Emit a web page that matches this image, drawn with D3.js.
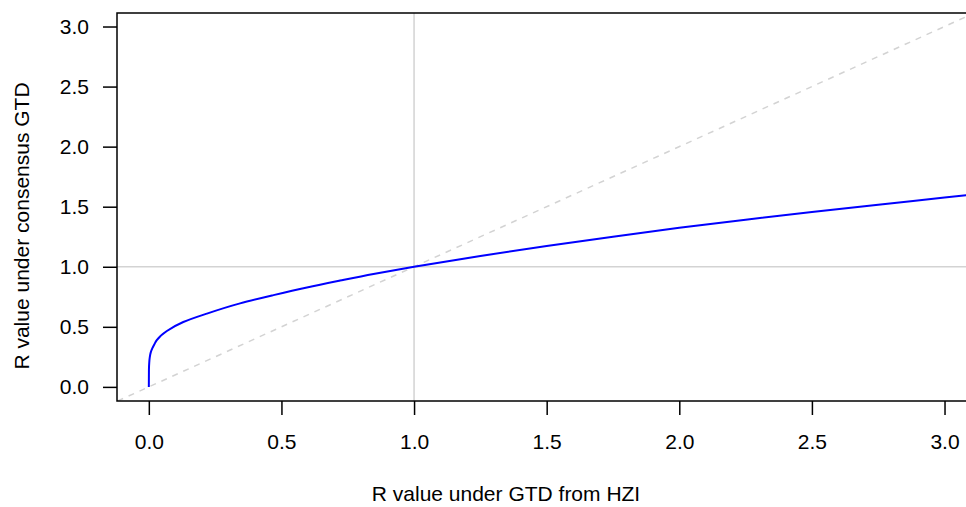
<!DOCTYPE html>
<html>
<head>
<meta charset="utf-8">
<script src="https://cdn.jsdelivr.net/npm/d3@7"></script>
<style>
  html, body { margin: 0; padding: 0; background: #fff; }
  svg { display: block; font-family: "Liberation Sans", Arial, sans-serif; }
</style>
</head>
<body>
<svg id="chart" width="966" height="507"></svg>
<script>
// R under the HZI generation-time distribution vs R under the consensus GTD
const rHzi       = [0, 0.0004, 0.0015, 0.0035, 0.007, 0.013, 0.021, 0.03, 0.068, 0.13, 0.219, 0.344, 0.47, 0.596, 0.721, 0.847, 1.0, 1.25, 1.5, 1.75, 2.0, 2.25, 2.5, 2.75, 3.0, 3.1];
const rConsensus = [0, 0.14, 0.2, 0.245, 0.285, 0.32, 0.355, 0.39, 0.465, 0.54, 0.61, 0.695, 0.764, 0.828, 0.885, 0.94, 1.0, 1.09, 1.172, 1.25, 1.324, 1.392, 1.456, 1.517, 1.576, 1.60];
const xTicks = [0, 0.5, 1.0, 1.5, 2.0, 2.5, 3.0];
const yTicks = [0, 0.5, 1.0, 1.5, 2.0, 2.5, 3.0];
const refValue = 1.0;

const svg = d3.select("#chart");
const plotLeft = 117, plotRight = 1005, plotTop = 13, plotBottom = 401;

const x = d3.scaleLinear().domain([-0.12, 3.228]).range([plotLeft, plotRight]);
const y = d3.scaleLinear().domain([-0.1175, 3.1125]).range([plotBottom, plotTop]);

svg.append("defs").append("clipPath").attr("id", "plotClip")
  .append("rect").attr("x", plotLeft).attr("y", plotTop)
  .attr("width", plotRight - plotLeft).attr("height", plotBottom - plotTop);

const plot = svg.append("g").attr("clip-path", "url(#plotClip)");

// reference lines at R = 1
plot.append("line")
  .attr("x1", x(refValue)).attr("x2", x(refValue))
  .attr("y1", plotTop).attr("y2", plotBottom)
  .attr("stroke", "#d3d3d3").attr("stroke-width", 1.5);
plot.append("line")
  .attr("x1", plotLeft).attr("x2", plotRight)
  .attr("y1", y(refValue)).attr("y2", y(refValue))
  .attr("stroke", "#d3d3d3").attr("stroke-width", 1.5);

// identity line
const idDomain = [-0.2, 3.3];
plot.append("line")
  .attr("x1", x(idDomain[0])).attr("y1", y(idDomain[0]))
  .attr("x2", x(idDomain[1])).attr("y2", y(idDomain[1]))
  .attr("stroke", "#d3d3d3").attr("stroke-width", 1.5)
  .attr("stroke-dasharray", "6,6");

// mapping curve (monotone in y, so the vertical start stays smooth)
const line = d3.line()
  .x((d, i) => x(rHzi[i]))
  .y(d => y(d))
  .curve(d3.curveMonotoneY);
plot.append("path")
  .attr("d", line(rConsensus))
  .attr("fill", "none")
  .attr("stroke", "#0000ff")
  .attr("stroke-width", 2);

// box (right edge lies outside the view)
svg.append("rect")
  .attr("x", plotLeft).attr("y", plotTop)
  .attr("width", plotRight - plotLeft).attr("height", plotBottom - plotTop)
  .attr("fill", "none").attr("stroke", "#000").attr("stroke-width", 1.5);

// axes
const fontSize = 21;
const xAxis = d3.axisBottom(x).tickValues(xTicks).tickFormat(d3.format(".1f")).tickSize(14).tickPadding(19);
const gx = svg.append("g").attr("transform", `translate(0,${plotBottom})`).call(xAxis);
const yAxis = d3.axisLeft(y).tickValues(yTicks).tickFormat(d3.format(".1f")).tickSize(14).tickPadding(14);
const gy = svg.append("g").attr("transform", `translate(${plotLeft},0)`).call(yAxis);
[gx, gy].forEach(g => {
  g.select(".domain").remove();
  g.selectAll(".tick line").attr("stroke", "#000").attr("stroke-width", 1.5);
  g.selectAll(".tick text").attr("fill", "#000").style("font-size", fontSize + "px")
    .style("font-family", '"Liberation Sans", Arial, sans-serif');
});

// axis titles
svg.append("text")
  .attr("x", 506).attr("y", 501)
  .attr("text-anchor", "middle")
  .style("font-size", fontSize + "px")
  .text("R value under GTD from HZI");
svg.append("text")
  .attr("transform", "translate(29,226) rotate(-90)")
  .attr("text-anchor", "middle")
  .style("font-size", fontSize + "px")
  .text("R value under consensus GTD");
</script>
</body>
</html>
